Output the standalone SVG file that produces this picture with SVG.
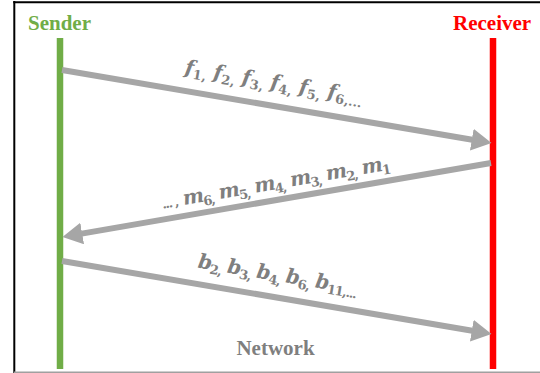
<svg xmlns="http://www.w3.org/2000/svg" width="540" height="373" viewBox="0 0 540 373">
  <style>
    .title { font-family: "Liberation Serif", "Times New Roman", serif; font-weight: bold; font-size: 21px; }
    .lbl { font-family: "DejaVu Serif", "Liberation Serif", serif; font-weight: bold; font-style: italic; font-size: 20px; fill: #7f7f7f; }
    .s { font-style: normal; font-size: 13px; }
    .arrow { stroke: #a6a6a6; stroke-width: 6; fill: none; marker-end: url(#head); }
  </style>
  <defs>
    <marker id="head" markerUnits="userSpaceOnUse" viewBox="0 -11 20 22" markerWidth="20" markerHeight="22" refX="0.5" refY="0" orient="auto">
      <path d="M0,-11 L20,0 L0,11 Z" fill="#a6a6a6"/>
    </marker>
  </defs>
  <rect width="540" height="373" fill="#ffffff"/>
  <g id="frame">
    <line x1="14.3" y1="1" x2="14.3" y2="373" stroke="#000" stroke-width="2"/>
    <line x1="13.3" y1="2.3" x2="540" y2="2.3" stroke="#000" stroke-width="2"/>
    <line x1="14" y1="372.3" x2="540" y2="372.3" stroke="#a0a0a0" stroke-width="1.5"/>
  </g>
  <g id="sender">
    <text class="title" x="28" y="29.5" fill="#70ad47">Sender</text>
    <line x1="60" y1="38" x2="60" y2="369" stroke="#70ad47" stroke-width="6.5"/>
  </g>
  <g id="receiver">
    <text class="title" x="453" y="29.5" fill="#ff0000">Receiver</text>
    <line x1="493" y1="38" x2="493" y2="369" stroke="#ff0000" stroke-width="6.5"/>
  </g>
  <g id="connectors">
    <line class="arrow" x1="62" y1="70" x2="472.3" y2="139.7"/>
    <line class="arrow" x1="491" y1="163" x2="81.7" y2="233.6"/>
    <line class="arrow" x1="62" y1="261" x2="472.3" y2="330.7"/>
  </g>
  <g id="labels">
    <text class="lbl" text-anchor="middle" textLength="180" transform="translate(273,88.5) rotate(9.6)">f<tspan class="s" dy="4">1,</tspan><tspan dy="-4"> f</tspan><tspan class="s" dy="4">2,</tspan><tspan dy="-4"> f</tspan><tspan class="s" dy="4">3,</tspan><tspan dy="-4"> f</tspan><tspan class="s" dy="4">4,</tspan><tspan dy="-4"> f</tspan><tspan class="s" dy="4">5,</tspan><tspan dy="-4"> f</tspan><tspan class="s" dy="4">6,...</tspan></text>
    <text class="lbl" text-anchor="middle" textLength="232" transform="translate(277,189) rotate(-9.8)"><tspan class="s">... ,</tspan> m<tspan class="s" dy="4">6,</tspan><tspan dy="-4"> m</tspan><tspan class="s" dy="4">5,</tspan><tspan dy="-4"> m</tspan><tspan class="s" dy="4">4,</tspan><tspan dy="-4"> m</tspan><tspan class="s" dy="4">3,</tspan><tspan dy="-4"> m</tspan><tspan class="s" dy="4">2,</tspan><tspan dy="-4"> m</tspan><tspan class="s" dy="4">1</tspan></text>
    <text class="lbl" text-anchor="middle" textLength="162" transform="translate(277,281) rotate(9.6)">b<tspan class="s" dy="4">2,</tspan><tspan dy="-4"> b</tspan><tspan class="s" dy="4">3,</tspan><tspan dy="-4"> b</tspan><tspan class="s" dy="4">4,</tspan><tspan dy="-4"> b</tspan><tspan class="s" dy="4">6,</tspan><tspan dy="-4"> b</tspan><tspan class="s" dy="4">11,...</tspan></text>
    <text class="title" x="275.5" y="355" text-anchor="middle" fill="#7f7f7f">Network</text>
  </g>
</svg>
